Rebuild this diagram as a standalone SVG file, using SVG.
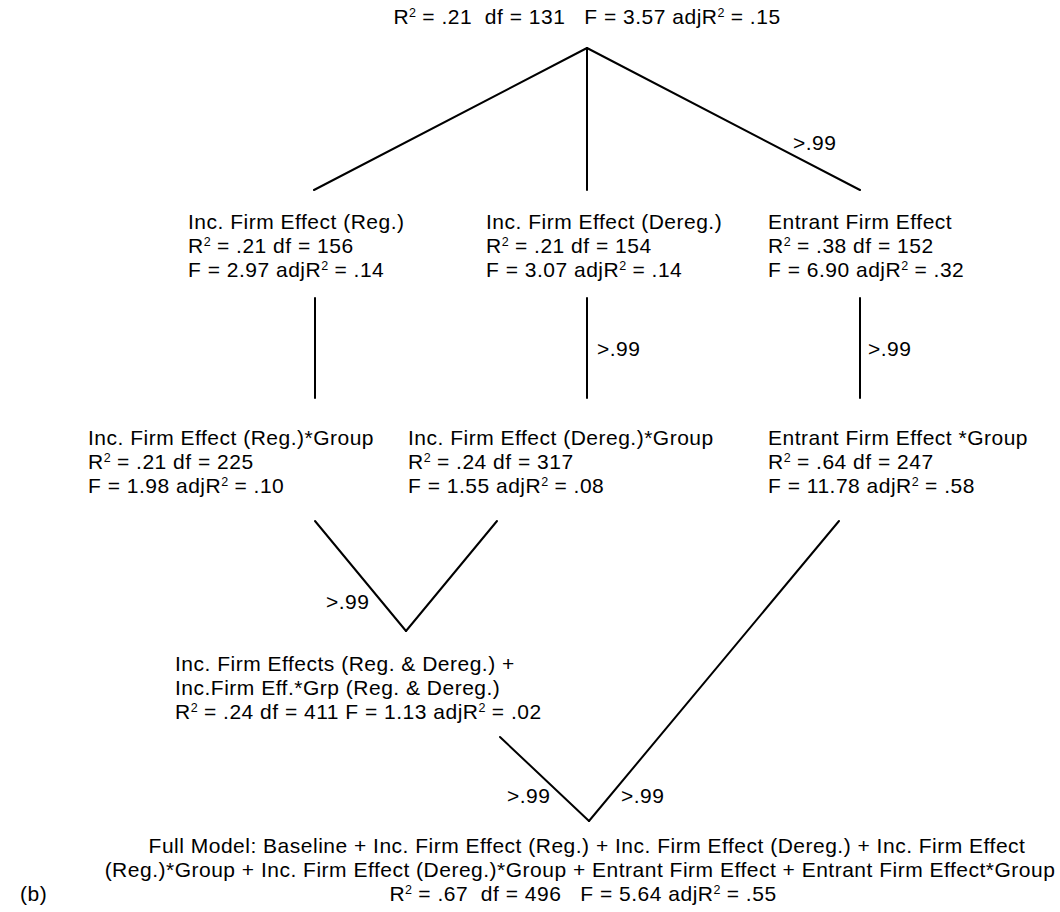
<svg xmlns="http://www.w3.org/2000/svg" width="1060" height="912" viewBox="0 0 1060 912">
<style>
text{font-family:"Liberation Sans",Arial,sans-serif;font-size:21px;letter-spacing:0.5px;fill:#000}
.s{font-size:12.5px;letter-spacing:0}
.c{text-anchor:middle}
line{stroke:#000;stroke-width:2;stroke-linecap:round}
</style>
<rect width="1060" height="912" fill="#fff"/>
<g id="connectors">
<line x1="587" y1="48" x2="314" y2="190"/>
<line x1="587" y1="48" x2="587" y2="190"/>
<line x1="587" y1="48" x2="860" y2="190"/>
<line x1="315" y1="298" x2="315" y2="398"/>
<line x1="587" y1="298" x2="587" y2="398"/>
<line x1="860" y1="298" x2="860" y2="398"/>
<line x1="315" y1="521" x2="406" y2="631"/>
<line x1="497" y1="521" x2="406" y2="631"/>
<line x1="500" y1="737" x2="589" y2="821"/>
<line x1="839" y1="521" x2="589" y2="821"/>
<g id="edge-labels">
<text x="793" y="150">&gt;.99</text>
<text x="597" y="356">&gt;.99</text>
<text x="868" y="356">&gt;.99</text>
<text x="326" y="609">&gt;.99</text>
<text x="507" y="803">&gt;.99</text>
<text x="621" y="803">&gt;.99</text>
</g>
</g>
<g id="baseline">
<text class="c" x="587" y="24" xml:space="preserve">R<tspan class="s" dy="-7.5">2</tspan><tspan dy="7.5"> = .21  df = 131   F = 3.57 adjR</tspan><tspan class="s" dy="-7.5">2</tspan><tspan dy="7.5"> = .15</tspan></text>
</g>
<g id="inc-reg">
<text x="188" y="229">Inc. Firm Effect (Reg.)<tspan x="188" dy="24">R</tspan><tspan class="s" dy="-7.5">2</tspan><tspan dy="7.5"> = .21 df = 156</tspan><tspan x="188" dy="24">F = 2.97 adjR</tspan><tspan class="s" dy="-7.5">2</tspan><tspan dy="7.5"> = .14</tspan></text>
</g>
<g id="inc-dereg">
<text x="486" y="229">Inc. Firm Effect (Dereg.)<tspan x="486" dy="24">R</tspan><tspan class="s" dy="-7.5">2</tspan><tspan dy="7.5"> = .21 df = 154</tspan><tspan x="486" dy="24">F = 3.07 adjR</tspan><tspan class="s" dy="-7.5">2</tspan><tspan dy="7.5"> = .14</tspan></text>
</g>
<g id="entrant">
<text x="768" y="229">Entrant Firm Effect<tspan x="768" dy="24">R</tspan><tspan class="s" dy="-7.5">2</tspan><tspan dy="7.5"> = .38 df = 152</tspan><tspan x="768" dy="24">F = 6.90 adjR</tspan><tspan class="s" dy="-7.5">2</tspan><tspan dy="7.5"> = .32</tspan></text>
</g>
<g id="inc-reg-group">
<text x="88" y="445">Inc. Firm Effect (Reg.)*Group<tspan x="88" dy="24">R</tspan><tspan class="s" dy="-7.5">2</tspan><tspan dy="7.5"> = .21 df = 225</tspan><tspan x="88" dy="24">F = 1.98 adjR</tspan><tspan class="s" dy="-7.5">2</tspan><tspan dy="7.5"> = .10</tspan></text>
</g>
<g id="inc-dereg-group">
<text x="408" y="445">Inc. Firm Effect (Dereg.)*Group<tspan x="408" dy="24">R</tspan><tspan class="s" dy="-7.5">2</tspan><tspan dy="7.5"> = .24 df = 317</tspan><tspan x="408" dy="24">F = 1.55 adjR</tspan><tspan class="s" dy="-7.5">2</tspan><tspan dy="7.5"> = .08</tspan></text>
</g>
<g id="entrant-group">
<text x="768" y="445">Entrant Firm Effect *Group<tspan x="768" dy="24">R</tspan><tspan class="s" dy="-7.5">2</tspan><tspan dy="7.5"> = .64 df = 247</tspan><tspan x="768" dy="24">F = 11.78 adjR</tspan><tspan class="s" dy="-7.5">2</tspan><tspan dy="7.5"> = .58</tspan></text>
</g>
<g id="inc-combined">
<text x="175" y="671">Inc. Firm Effects (Reg. &amp; Dereg.) +<tspan x="175" dy="24">Inc.Firm Eff.*Grp (Reg. &amp; Dereg.)</tspan><tspan x="175" dy="24">R</tspan><tspan class="s" dy="-7.5">2</tspan><tspan dy="7.5"> = .24 df = 411 F = 1.13 adjR</tspan><tspan class="s" dy="-7.5">2</tspan><tspan dy="7.5"> = .02</tspan></text>
</g>
<g id="full-model">
<text class="c" x="587" y="853" xml:space="preserve">Full Model: Baseline + Inc. Firm Effect (Reg.) + Inc. Firm Effect (Dereg.) + Inc. Firm Effect<tspan x="580" dy="24">(Reg.)*Group + Inc. Firm Effect (Dereg.)*Group + Entrant Firm Effect + Entrant Firm Effect*Group</tspan><tspan x="583" dy="24">R</tspan><tspan class="s" dy="-7.5">2</tspan><tspan dy="7.5"> = .67  df = 496   F = 5.64 adjR</tspan><tspan class="s" dy="-7.5">2</tspan><tspan dy="7.5"> = .55</tspan></text>
</g>
<g id="panel-label">
<text x="20" y="901">(b)</text>
</g>
</svg>
